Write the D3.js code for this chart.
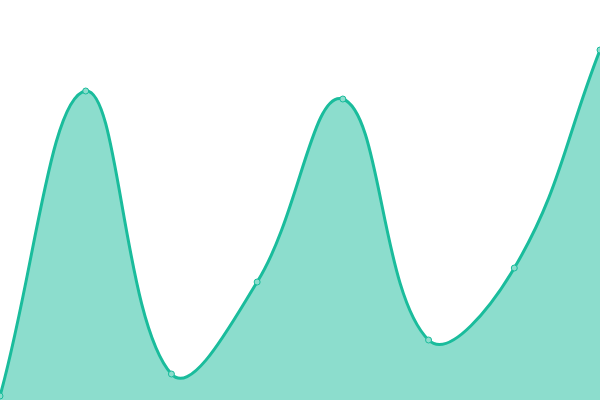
<!DOCTYPE html>
<html>
<head>
<meta charset="utf-8">
<script src="https://cdn.jsdelivr.net/npm/d3@7"></script>
<style>
  html, body { margin: 0; padding: 0; background: #fff; }
  svg { display: block; }
</style>
</head>
<body>
<div id="chart"></div>
<script>
var categories = [0, 1, 2, 3, 4, 5, 6, 7];
var values = [1, 77.25, 6.5, 29.5, 75.25, 15, 33, 87.5];

var width = 600, height = 400;
var TENSION = 0.4;

var x = d3.scaleLinear()
  .domain([0, categories.length - 1])
  .range([0, width]);

var y = d3.scaleLinear()
  .domain([0, 100])
  .range([height, 0]);

var data = categories.map(function(c, i) { return [c, values[i]]; });

// spline with distance-weighted control points, clamped to the plot area
function SplineCurve(context) { this._context = context; }
SplineCurve.prototype = {
  areaStart: function() { this._line = 0; },
  areaEnd: function() { this._line = NaN; },
  lineStart: function() { this._pts = []; },
  point: function(px, py) { this._pts.push([+px, +py]); },
  lineEnd: function() {
    var p = this._pts, n = p.length, c = this._context;
    if (n) {
      var ctrl = p.map(function(cur, i) {
        var prev = p[i - 1] || cur, next = p[i + 1] || cur;
        var d01 = Math.hypot(cur[0] - prev[0], cur[1] - prev[1]);
        var d12 = Math.hypot(next[0] - cur[0], next[1] - cur[1]);
        var s01 = d01 / (d01 + d12), s12 = d12 / (d01 + d12);
        if (isNaN(s01)) s01 = 0;
        if (isNaN(s12)) s12 = 0;
        var fa = TENSION * s01, fb = TENSION * s12;
        var clampX = function(v) { return Math.max(0, Math.min(width, v)); };
        var clampY = function(v) { return Math.max(0, Math.min(height, v)); };
        return {
          prev: [clampX(cur[0] - fa * (next[0] - prev[0])), clampY(cur[1] - fa * (next[1] - prev[1]))],
          next: [clampX(cur[0] + fb * (next[0] - prev[0])), clampY(cur[1] + fb * (next[1] - prev[1]))]
        };
      });
      if (this._line) c.lineTo(p[0][0], p[0][1]);
      else c.moveTo(p[0][0], p[0][1]);
      for (var i = 1; i < n; i++) {
        c.bezierCurveTo(ctrl[i - 1].next[0], ctrl[i - 1].next[1],
          ctrl[i].prev[0], ctrl[i].prev[1], p[i][0], p[i][1]);
      }
    }
    if (this._line || (this._line !== 0 && n === 1)) c.closePath();
    this._line = 1 - this._line;
  }
};
function curveSpline(context) { return new SplineCurve(context); }

var svg = d3.select('#chart')
  .append('svg')
    .attr('width', width)
    .attr('height', height);

var area = d3.area()
  .x(function(d) { return x(d[0]); })
  .y0(height)
  .y1(function(d) { return y(d[1]); })
  .curve(curveSpline);

var line = d3.line()
  .x(function(d) { return x(d[0]); })
  .y(function(d) { return y(d[1]); })
  .curve(curveSpline);

svg.append('path')
  .datum(data)
  .attr('d', area)
  .attr('fill', '#1abc9c')
  .attr('fill-opacity', 0.5);

svg.append('path')
  .datum(data)
  .attr('d', line)
  .attr('fill', 'none')
  .attr('stroke', '#1abc9c')
  .attr('stroke-width', 3);

svg.selectAll('.dot')
  .data(data)
  .enter().append('circle')
    .attr('class', 'dot')
    .attr('cx', function(d) { return x(d[0]); })
    .attr('cy', function(d) { return y(d[1]); })
    .attr('r', 3)
    .attr('fill', '#8cddcd')
    .attr('stroke', '#1abc9c')
    .attr('stroke-width', 1);
</script>
</body>
</html>
